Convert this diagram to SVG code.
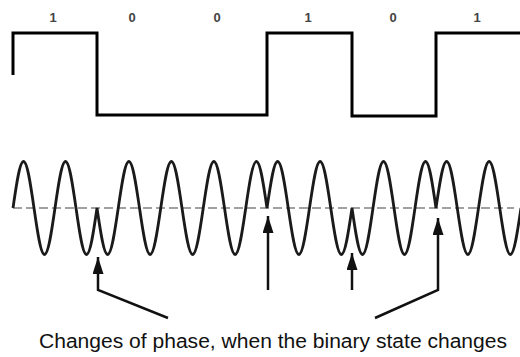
<svg xmlns="http://www.w3.org/2000/svg" width="520" height="357" viewBox="0 0 520 357">
<style>
.bit{font-family:"Liberation Sans",Arial,sans-serif;font-size:13px;font-weight:bold;fill:#444;text-anchor:middle}
.cap{font-family:"Liberation Sans",Arial,sans-serif;font-size:20px;fill:#111}
.sq{fill:none;stroke:#000;stroke-width:3;stroke-linejoin:miter}
.wave{fill:none;stroke:#1a1a1a;stroke-width:2.8;stroke-linejoin:miter}
.axis{stroke:#444;stroke-width:1.2;stroke-dasharray:9 4}
.arr{fill:none;stroke:#111;stroke-width:2.5;marker-end:url(#ah)}
</style>
<defs>
<marker id="ah" markerUnits="userSpaceOnUse" viewBox="0 0 17 11" refX="17" refY="5.5" markerWidth="17" markerHeight="11" orient="auto">
<path d="M0,0 L17,5.5 L0,11 z" fill="#111"/>
</marker>
</defs>
<rect width="520" height="357" fill="#fff"/>
<g id="bits">
<text class="bit" x="53" y="22">1</text>
<text class="bit" x="132" y="22">0</text>
<text class="bit" x="217" y="22">0</text>
<text class="bit" x="308" y="22">1</text>
<text class="bit" x="393" y="22">0</text>
<text class="bit" x="477" y="22">1</text>
</g>
<g id="square-wave">
<path class="sq" d="M13,75 V33 H97 V115 H267 V33 H352 V116 H436 V33 H522"/>
</g>
<g id="axis">
<line class="axis" x1="13" y1="208" x2="514" y2="208"/>
</g>
<g id="carrier">
<path class="wave" d="M13,208
c3.424,-23.82 6.7,-46.5 10.5,-46.5 c3.8,0 7.076,22.68 10.5,46.5 c3.424,23.82 6.7,46.5 10.5,46.5 c3.8,0 7.076,-22.68 10.5,-46.5
c3.424,-23.82 6.7,-46.5 10.5,-46.5 c3.8,0 7.076,22.68 10.5,46.5 c3.424,23.82 6.7,46.5 10.5,46.5 c3.8,0 7.076,-22.68 10.5,-46.5
c3.465,23.82 6.78,46.5 10.625,46.5 c3.845,0 7.16,-22.68 10.625,-46.5 c3.465,-23.82 6.78,-46.5 10.625,-46.5 c3.845,0 7.16,22.68 10.625,46.5
c3.465,23.82 6.78,46.5 10.625,46.5 c3.845,0 7.16,-22.68 10.625,-46.5 c3.465,-23.82 6.78,-46.5 10.625,-46.5 c3.845,0 7.16,22.68 10.625,46.5
c3.465,23.82 6.78,46.5 10.625,46.5 c3.845,0 7.16,-22.68 10.625,-46.5 c3.465,-23.82 6.78,-46.5 10.625,-46.5 c3.845,0 7.16,22.68 10.625,46.5
c3.465,23.82 6.78,46.5 10.625,46.5 c3.845,0 7.16,-22.68 10.625,-46.5 c3.465,-23.82 6.78,-46.5 10.625,-46.5 c3.845,0 7.16,22.68 10.625,46.5
c3.465,-23.82 6.78,-46.5 10.625,-46.5 c3.845,0 7.16,22.68 10.625,46.5 c3.465,23.82 6.78,46.5 10.625,46.5 c3.845,0 7.16,-22.68 10.625,-46.5
c3.465,-23.82 6.78,-46.5 10.625,-46.5 c3.845,0 7.16,22.68 10.625,46.5 c3.465,23.82 6.78,46.5 10.625,46.5 c3.845,0 7.16,-22.68 10.625,-46.5
c3.424,23.82 6.7,46.5 10.5,46.5 c3.8,0 7.076,-22.68 10.5,-46.5 c3.424,-23.82 6.7,-46.5 10.5,-46.5 c3.8,0 7.076,22.68 10.5,46.5
c3.424,23.82 6.7,46.5 10.5,46.5 c3.8,0 7.076,-22.68 10.5,-46.5 c3.424,-23.82 6.7,-46.5 10.5,-46.5 c3.8,0 7.076,22.68 10.5,46.5
c3.465,-23.82 6.78,-46.5 10.625,-46.5 c3.845,0 7.16,22.68 10.625,46.5 c3.465,23.82 6.78,46.5 10.625,46.5 c3.845,0 7.16,-22.68 10.625,-46.5
c3.465,-23.82 6.78,-46.5 10.625,-46.5 c3.845,0 7.16,22.68 10.625,46.5 c3.465,23.82 6.78,46.5 10.625,46.5 c3.845,0 7.16,-22.68 10.625,-46.5"/>
</g>
<g id="connectors">
<path class="arr" d="M168,318 L98,290 V257"/>
<path class="arr" d="M268,290 V216"/>
<path class="arr" d="M352,290 V253"/>
<path class="arr" d="M375,318 L438,290 V218"/>
</g>
<g id="caption">
<text class="cap" x="39" y="348" textLength="468" lengthAdjust="spacingAndGlyphs">Changes of phase, when the binary state changes</text>
</g>
</svg>
